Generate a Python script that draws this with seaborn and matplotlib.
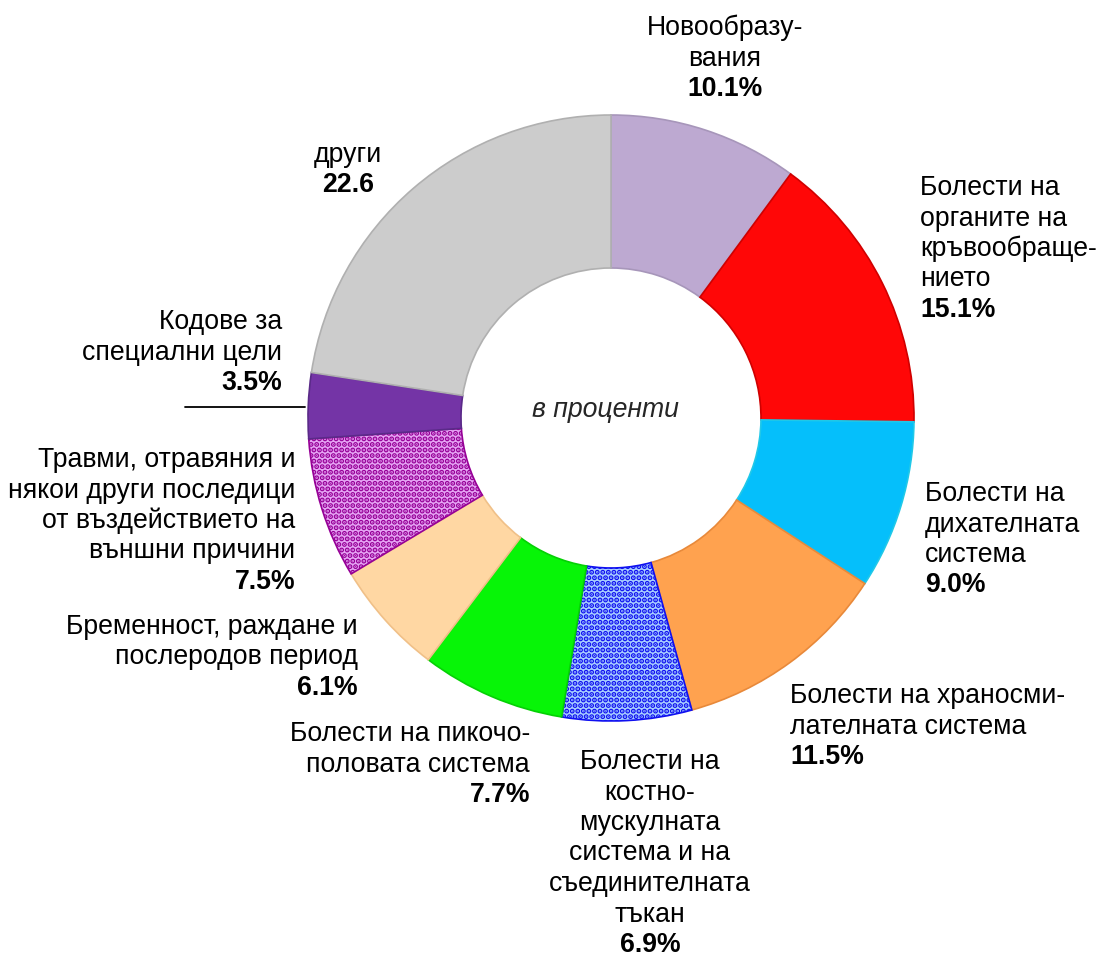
import matplotlib
matplotlib.use("Agg")
import matplotlib.pyplot as plt
import seaborn as sns

sns.set_theme(style="white")
plt.rcParams['font.family'] = ['Liberation Sans', 'DejaVu Sans']
plt.rcParams['hatch.linewidth'] = 2.6

# Share of diagnoses by class, clockwise from 12 o'clock
categories = [
    "Новообразу-\nвания",
    "Болести на\nорганите на\nкръвообраще-\nнието",
    "Болести на\nдихателната\nсистема",
    "Болести на храносми-\nлателната система",
    "Болести на\nкостно-\nмускулната\nсистема и на\nсъединителната\nтъкан",
    "Болести на пикочо-\nполовата система",
    "Бременност, раждане и\nпослеродов период",
    "Травми, отравяния и\nнякои други последици\nот въздействието на\nвъншни причини",
    "Кодове за\nспециални цели",
    "други",
]
values = [10.1, 15.1, 9.0, 11.5, 6.9, 7.7, 6.1, 7.5, 3.5, 22.6]
value_labels = ["10.1%", "15.1%", "9.0%", "11.5%", "6.9%", "7.7%", "6.1%", "7.5%", "3.5%", "22.6"]

face_colors = ["#BDA9D1", "#FF0707", "#05BFFB", "#FFA24F", "#A9CFFF",
               "#07F507", "#FFD7A3", "#E6A6F5", "#7434A6", "#CCCCCC"]
edge_colors = ["#A796BA", "#D00000", "#20C8E8", "#E8893A", "#1010F0",
               "#05D005", "#F0C088", "#960096", "#5A2A88", "#B0B0B0"]
hatches = [None, None, None, None, "...", None, None, "...", None, None]

fig = plt.figure(figsize=(10.99, 9.57), dpi=100)
ax = fig.add_axes([0, 0, 1, 1])

W, H = 1099, 957
CX, CY, R = 611, 418, 303


def to_data(px, py):
    return (px - CX) / R, (CY - py) / R


wedges, _ = ax.pie(values, startangle=90, counterclock=False, radius=1.0,
                   colors=face_colors,
                   wedgeprops=dict(width=0.505, linewidth=1.2))
for w, ec, h in zip(wedges, edge_colors, hatches):
    w.set_edgecolor(ec)
    if h:
        w.set_hatch(h)

ax.set_xlim(-CX / R, (W - CX) / R)
ax.set_ylim(-(H - CY) / R, CY / R)
ax.set_aspect("equal")
ax.axis("off")

# label anchor: (x px, first line y px, alignment)
anchors = [
    (725, 28, "center"),
    (920, 188, "left"),
    (925, 494, "left"),
    (790, 696, "left"),
    (650, 762, "center"),
    (530, 734, "right"),
    (358, 627, "right"),
    (295, 460, "right"),
    (282, 322, "right"),
    (348, 155, "center"),
]
LH = 30.5
FS = 19.2

for text, val, (px, py, ha) in zip(categories, value_labels, anchors):
    lines = text.split("\n")
    for i, line in enumerate(lines):
        x, y = to_data(px, py + i * LH)
        ax.text(x, y, line, ha=ha, va="center", fontsize=FS, color="black")
    x, y = to_data(px, py + len(lines) * LH)
    ax.text(x, y, val, ha=ha, va="center", fontsize=FS, fontweight="bold", color="black")

# leader line for the small slice
x0, y0 = to_data(185, 407)
x1, y1 = to_data(305, 407)
ax.plot([x0, x1], [y0, y1], color="black", linewidth=1.3)

cx, cy = to_data(605, 410)
ax.text(cx, cy, "в проценти", ha="center", va="center", fontsize=FS, style="italic")

fig.savefig("out.png", dpi=100, facecolor="white")
